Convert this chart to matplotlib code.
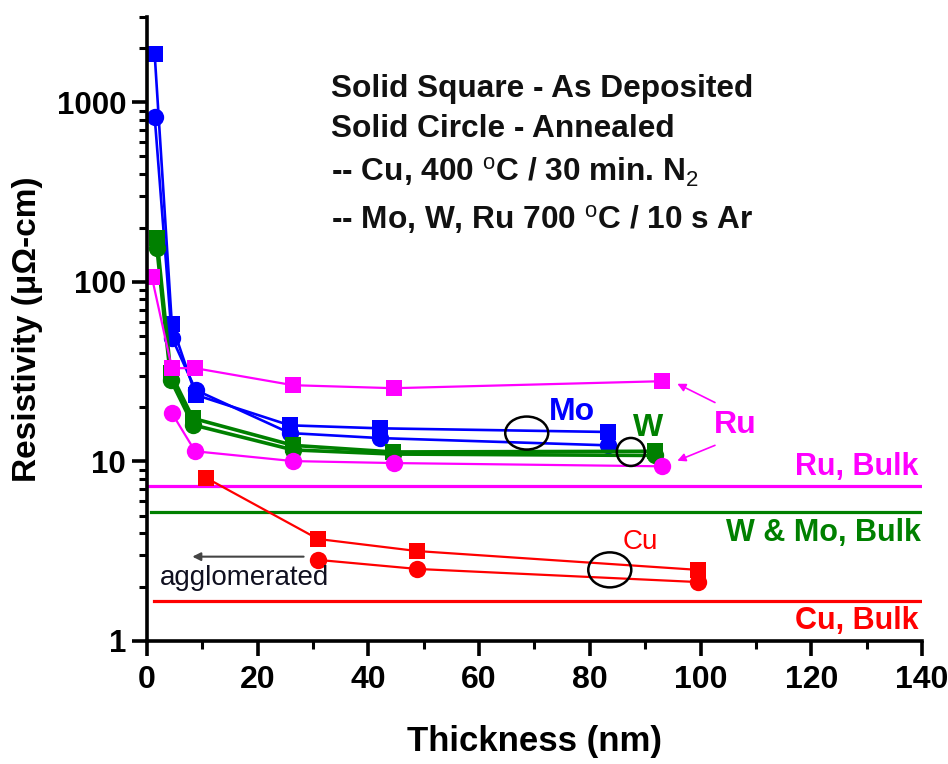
import matplotlib

matplotlib.use("Agg")
import matplotlib.pyplot as plt  # noqa: E402
from matplotlib.patches import Ellipse  # noqa: E402
from matplotlib.transforms import ScaledTranslation  # noqa: E402
from matplotlib.ticker import FixedLocator, LogLocator, NullFormatter  # noqa: E402

plt.rcParams["font.family"] = ["Liberation Sans", "DejaVu Sans"]
plt.rcParams["mathtext.fontset"] = "custom"
plt.rcParams["mathtext.rm"] = "Liberation Sans:bold"
plt.rcParams["mathtext.it"] = "Liberation Sans:bold"
plt.rcParams["mathtext.bf"] = "Liberation Sans:bold"
plt.rcParams["mathtext.sf"] = "Liberation Sans"

# Mo: as deposited (squares) and annealed (circles)
mo_x = [1.4, 4.5, 8.8, 25.8, 42.1, 83.3]
mo_dep = [1850, 58, 23.5, 15.9, 15.3, 14.6]
mo_ann = [830, 49, 25, 14.4, 13.5, 12.3]

# W
w_x = [1.8, 4.3, 8.3, 26.4, 44.4, 91.8]
w_dep = [175, 31, 17.4, 12.3, 11.3, 11.4]
w_ann = [154, 28.5, 16.0, 11.6, 11.0, 10.8]

# Ru
ru_dep_x = [0.9, 4.5, 8.7, 26.4, 44.6, 93.0]
ru_dep = [106, 33.1, 33.1, 26.6, 25.6, 28.0]
ru_ann_x = [4.5, 8.7, 26.4, 44.6, 93.0]
ru_ann = [18.6, 11.4, 10.05, 9.8, 9.4]

# Cu
cu_dep_x = [10.7, 30.9, 48.8, 99.5]
cu_dep = [8.1, 3.7, 3.17, 2.49]
cu_ann_x = [30.9, 48.8, 99.5]
cu_ann = [2.83, 2.52, 2.13]

# bulk resistivities
ru_bulk = 7.3
wmo_bulk = 5.25
cu_bulk = 1.67

BLUE = "#0000ff"
GREEN = "#008000"
MAGENTA = "#ff00ff"
RED = "#ff0000"

fig = plt.figure(figsize=(9.48, 7.64), dpi=100)
ax = fig.add_axes([0.155, 0.161, 0.8176, 0.817])

ax.set_yscale("log")
ax.set_xlim(0, 140)
ax.set_ylim(1, 3000)

# bulk reference lines
ax.plot([0, 140], [ru_bulk, ru_bulk], color=MAGENTA, lw=2.3, zorder=1)
ax.plot([0.8, 140], [wmo_bulk, wmo_bulk], color=GREEN, lw=2.3, zorder=1)
ax.plot([1.2, 140], [cu_bulk, cu_bulk], color=RED, lw=2.3, zorder=1)

sq = dict(marker="s", ms=11.5, mew=0)
ci = dict(marker="o", ms=12.5, mew=0)

ax.plot(mo_x, mo_dep, color=BLUE, lw=1.9, **sq)
ax.plot(mo_x, mo_ann, color=BLUE, lw=1.9, **ci)
ax.plot(w_x, w_dep, color=GREEN, lw=2.6, **sq)
ax.plot(w_x, w_ann, color=GREEN, lw=2.6, **ci)
ax.plot(ru_dep_x, ru_dep, color=MAGENTA, lw=1.6, **sq)
ax.plot(ru_ann_x, ru_ann, color=MAGENTA, lw=1.6, **ci)
ax.plot(cu_dep_x, cu_dep, color=RED, lw=1.6, **sq)
ax.plot(cu_ann_x, cu_ann, color=RED, lw=1.6, **ci)


def ring(x, y, w, h):
    # ellipse sized in inches, anchored at a data point
    tr = fig.dpi_scale_trans + ScaledTranslation(x, y, ax.transData)
    ax.add_patch(Ellipse((0, 0), w, h, transform=tr, fill=False,
                         edgecolor="black", lw=1.8, zorder=5))


ring(68.6, 14.4, 0.43, 0.33)
ring(87.4, 11.3, 0.28, 0.28)
ring(83.6, 2.49, 0.43, 0.35)

# axes styling
for side in ("top", "right"):
    ax.spines[side].set_visible(False)
for side in ("left", "bottom"):
    ax.spines[side].set_linewidth(2.6)

ax.set_xticks(range(0, 141, 20))
ax.xaxis.set_minor_locator(FixedLocator(range(10, 140, 20)))
ax.yaxis.set_major_locator(FixedLocator([1, 10, 100, 1000]))
ax.yaxis.set_minor_locator(LogLocator(base=10, subs=range(2, 10)))
ax.yaxis.set_minor_formatter(NullFormatter())
ax.set_yticklabels(["1", "10", "100", "1000"])
ax.tick_params(axis="both", which="major", direction="out", length=11, width=2.6)
ax.tick_params(axis="both", which="minor", direction="out", length=6, width=2.2)
ax.tick_params(axis="y", which="major", labelsize=22.5, pad=4)
ax.tick_params(axis="x", which="major", labelsize=23, pad=6)
for lbl in ax.get_yticklabels():
    lbl.set_fontweight("bold")
for lbl in ax.get_xticklabels():
    lbl.set_fontweight("bold")

ax.set_xlabel("Thickness (nm)", fontsize=25, fontweight="bold", labelpad=22)
ax.set_ylabel("Resistivity (\u03bc\u03a9-cm)", fontsize=24, fontweight="bold", labelpad=10)

# condition notes
note = dict(fontsize=22.8, fontweight="bold", color="#111111", transform=ax.transAxes,
            va="center", ha="left")
ax.text(0.237, 0.885, "Solid Square - As Deposited", **note)
ax.text(0.237, 0.821, "Solid Circle - Annealed", **note)
ax.text(0.237, 0.750, r"-- Cu, 400 $^{\mathsf{o}}$C / 30 min. N$_{\mathsf{2}}$", **note)
ax.text(0.237, 0.675, r"-- Mo, W, Ru 700 $^{\mathsf{o}}$C / 10 s Ar", **note)

# series labels
ax.text(76.8, 18.8, "Mo", color=BLUE, fontsize=23, fontweight="bold", ha="center", va="center")
ax.text(90.6, 15.3, "W", color=GREEN, fontsize=23, fontweight="bold", ha="center", va="center")
ax.text(106.2, 15.9, "Ru", color=MAGENTA, fontsize=23, fontweight="bold", ha="center", va="center")
ax.text(89.1, 3.55, "Cu", color=RED, fontsize=20, ha="center", va="center")

arrow = dict(arrowstyle="-|>", color=MAGENTA, lw=1.2, mutation_scale=12, shrinkA=0, shrinkB=0)
ax.annotate("", xy=(95.8, 27.1), xytext=(102.6, 21.3), arrowprops=arrow)
ax.annotate("", xy=(95.8, 10.1), xytext=(102.6, 12.3), arrowprops=arrow)

ax.text(139.3, 9.3, "Ru, Bulk", color=MAGENTA, fontsize=22, fontweight="bold", ha="right", va="center")
ax.text(139.8, 4.0, "W & Mo, Bulk", color=GREEN, fontsize=22, fontweight="bold", ha="right", va="center")
ax.text(139.3, 1.29, "Cu, Bulk", color=RED, fontsize=22, fontweight="bold", ha="right", va="center")

ax.annotate("", xy=(8.2, 2.95), xytext=(28.3, 2.95),
            arrowprops=dict(arrowstyle="-|>", color="#444444", lw=1.5, mutation_scale=12,
                            shrinkA=0, shrinkB=0))
ax.text(2.3, 2.25, "agglomerated", color="#101020", fontsize=20, ha="left", va="center")

fig.savefig("out.png", dpi=100)
